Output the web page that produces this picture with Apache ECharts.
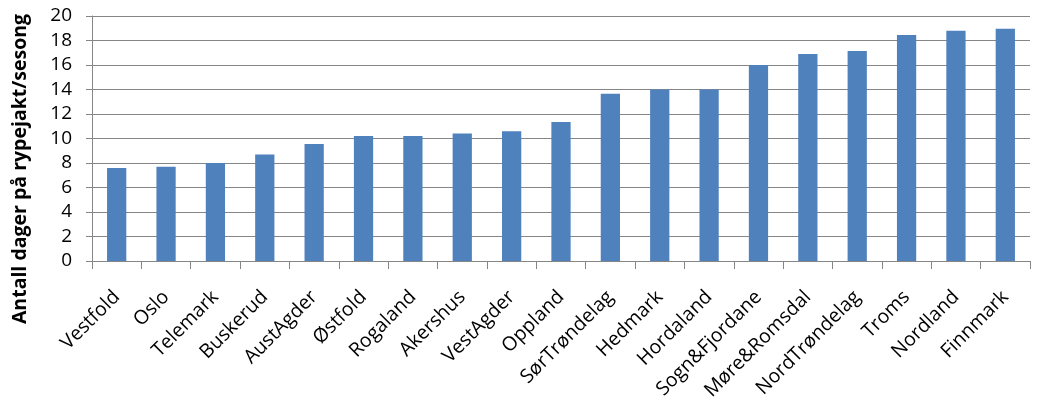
<!DOCTYPE html>
<html><head><meta charset="utf-8">
<script src="https://cdn.jsdelivr.net/npm/echarts@6/dist/echarts.min.js"></script>
<style>html,body{margin:0;padding:0;background:#fff}#c{width:1046px;height:404px}</style>
</head><body><div id="c"></div>
<script>
const categories = ["Vestfold","Oslo","Telemark","Buskerud","AustAgder","Østfold","Rogaland","Akershus","VestAgder","Oppland","SørTrøndelag","Hedmark","Hordaland","Sogn&Fjordane","Møre&Romsdal","NordTrøndelag","Troms","Nordland","Finnmark"];
const values = [7.6,7.7,8.0,8.7,9.55,10.2,10.2,10.4,10.6,11.35,13.65,14.0,14.0,16.0,16.9,17.15,18.45,18.8,18.95];
const yTitle = "Antall dager på rypejakt/sesong";
const FONT = "'Open Sans', 'Liberation Sans', sans-serif";
const chart = echarts.init(document.getElementById('c'));
chart.setOption({
  animation:false,
  grid:{left:92,right:16,top:16,bottom:143,containLabel:false},
  graphic:[{type:'text',x:20,y:169,rotation:Math.PI/2,
    style:{text:yTitle,align:'center',verticalAlign:'middle',fill:'#000',
      font:"bold 19.5px 'Open Sans', 'Liberation Sans', sans-serif"}}],
  xAxis:{type:'category',data:categories,
    axisLine:{lineStyle:{color:'#868686',width:1}},
    axisTick:{show:true,alignWithLabel:false,length:8,lineStyle:{color:'#868686'}},
    axisLabel:{rotate:45,interval:0,color:'#000',fontFamily:FONT,fontSize:19.5,margin:33}
  },
  yAxis:{type:'value',min:0,max:20,interval:2,
    axisLine:{show:true,lineStyle:{color:'#868686'}},
    axisTick:{show:true,length:6,lineStyle:{color:'#868686'}},
    axisLabel:{color:'#000',fontFamily:FONT,fontSize:19,margin:20},
    splitLine:{lineStyle:{color:'#868686',width:1}}
  },
  series:[{type:'bar',data:values,barWidth:'39%',itemStyle:{color:'#4F81BD'}}]
});
</script></body></html>
